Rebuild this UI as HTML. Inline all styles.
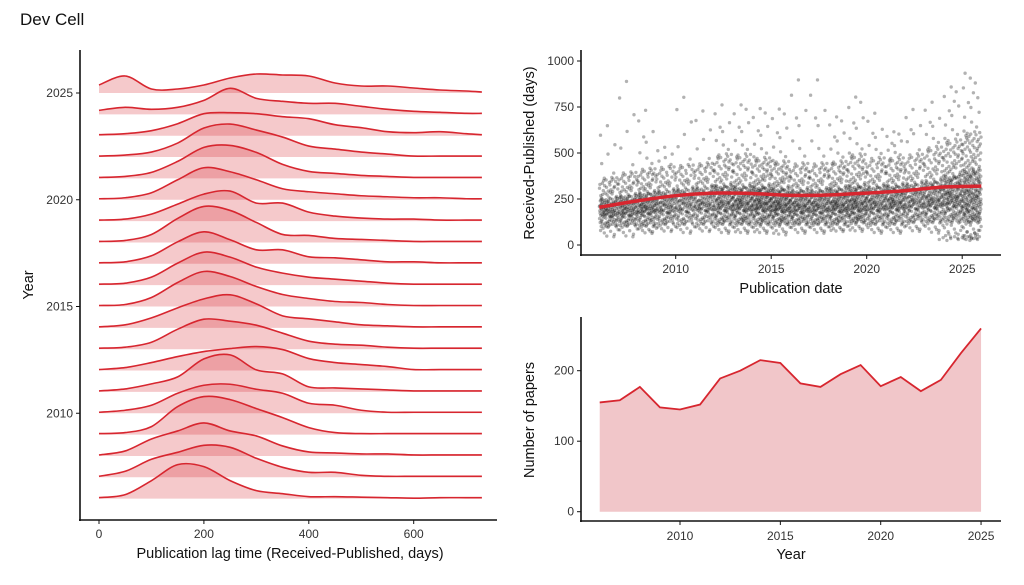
<!DOCTYPE html>
<html><head><meta charset="utf-8">
<style>
body{margin:0;background:#fff;}
svg{display:block;font-family:"Liberation Sans",sans-serif;}
.tick{font-size:12px;fill:#333;}
.lab{font-size:14.5px;fill:#111;}
</style></head>
<body>
<svg id="fig" width="1024" height="585" viewBox="0 0 1024 585">
<text x="20" y="25" font-size="17" fill="#111">Dev Cell</text>
<g id="ridge"></g>
<g id="scatter"></g>
<g id="area"></g>
</svg>
<script>
// ---------- data ----------
const ridgeYears = [2006,2007,2008,2009,2010,2011,2012,2013,2014,2015,2016,2017,2018,2019,2020,2021,2022,2023,2024,2025];
const lagSamples = [0,50,100,150,200,250,300,350,400,450,500,550,600,650,700,730];
const ridgeHeights = [
 [1,4,18,34,32,18,8,5,2,2,1.5,1,0.5,1,1,1],
 [1,6,18,25,32,30,19,10,5,5,2,1,1,1,1,1],
 [1,5,17,25,33,25,20,10,4,3,2,2,1,1,1,1],
 [1,2,8,28,38,35,26,17,7,2,1,1,1,1,1,1],
 [1,3,8,20,28,29,24,20,10,8,3,1,1,1,1,1],
 [1,3,8,15,33,37,22,18,5,4,3,2,1,1,1,1],
 [1,3,8,14,19,22,24,21,12,8,6,4,1,1,1,1],
 [1,2,7,20,30,28,24,16,8,5,4,2,1,1,1,1],
 [1,3,10,20,29,33,24,12,9,6,3,2,1,1,1,1],
 [1,2,9,24,35,30,20,12,8,5,4,2,1,1,1,1],
 [1,2,8,22,33,28,18,12,8,6,4,2,1,1,1,1],
 [1,2,8,22,32,24,14,14,7,6,4,2,2,1,1,1],
 [1,2,8,24,36,32,20,8,7,4,3,2,1,1,1,1],
 [1,2,7,17,27,30,18,18,9,5,3,2,2,1,1,1],
 [1,2,7,20,32,28,20,11,8,6,4,3,2,2,1,1],
 [1,2,6,17,31,33,26,14,7,5,3,2,1,1,1,1],
 [1,2,5,14,29,33,27,20,11,8,5,3,1,1,1,1],
 [1,2,5,12,22,23,22,19,17,11,8,4,3,4,2,1],
 [4,7,5,7,14,26,16,13,11,11,8,5,3,2,1,1],
 [8,17,4,4,8,15,19,18,17,10,7,7,5,3,2,1]
];
const ridgeXTicks = [0,200,400,600];
const ridgeYTicks = [2010,2015,2020,2025];

const paperYears = [2006,2007,2008,2009,2010,2011,2012,2013,2014,2015,2016,2017,2018,2019,2020,2021,2022,2023,2024,2025];
const paperCounts = [155,158,177,148,145,152,189,200,215,211,182,177,195,208,178,191,171,187,225,260];
const areaXTicks = [2010,2015,2020,2025];
const areaYTicks = [0,100,200];

const qLevels = [0,0.05,0.25,0.5,0.75,0.95,1];
const lagQuantiles = [
 [40,95,155,200,255,370,700],[40,100,160,210,270,400,980],[60,100,170,220,285,420,790],[70,110,175,230,295,430,550],
 [60,110,180,240,305,440,870],[70,110,185,240,315,450,780],[60,110,185,250,325,500,810],[60,110,185,245,320,500,810],
 [60,110,185,245,320,480,790],[50,110,180,235,310,460,790],[60,110,175,230,300,450,980],[60,110,175,230,300,450,980],
 [70,110,180,235,310,460,740],[70,120,185,245,325,500,860],[60,110,185,245,320,480,760],[60,110,190,250,325,480,640],
 [70,120,195,260,335,500,780],[60,120,200,265,350,540,820],[30,120,210,285,380,580,910],[30,120,200,295,410,620,960]
];
const lowClusterDates = [2023.8,2024.0,2024.2,2024.4,2024.6,2024.8,2025.0,2025.1,2025.2,2025.3,2025.4,2025.5,2025.6,2025.7,2025.8,2025.9,2024.3,2025.05,2025.25,2025.45,2025.65,2025.85];
const lowClusterVals = [30,40,25,35,45,30,40,35,30,45,25,40,35,50,30,45,60,50,70,55,65,80];
const trendDates = [2006,2008,2010,2012,2014,2016,2018,2020,2022,2024,2026];
const trendVals = [205,240,268,282,280,270,272,282,295,315,320];
const scatterXTicks = [2010,2015,2020,2025];
const scatterYTicks = [0,250,500,750,1000];

// ---------- helpers ----------
const NS='http://www.w3.org/2000/svg';
function mk(tag,attrs,parent){const e=document.createElementNS(NS,tag);for(const k in attrs)e.setAttribute(k,attrs[k]);parent.appendChild(e);return e;}
function smooth(pts){let d='M'+pts[0][0]+','+pts[0][1];for(let i=0;i<pts.length-1;i++){const p0=pts[Math.max(0,i-1)],p1=pts[i],p2=pts[i+1],p3=pts[Math.min(pts.length-1,i+2)];
 d+=' C'+(p1[0]+(p2[0]-p0[0])/6)+','+(p1[1]+(p2[1]-p0[1])/6)+' '+(p2[0]-(p3[0]-p1[0])/6)+','+(p2[1]-(p3[1]-p1[1])/6)+' '+p2[0]+','+p2[1];}return d;}
function interp(xs,ys,x){if(x<=xs[0])return ys[0];for(let i=0;i<xs.length-1;i++){if(x<=xs[i+1]){const t=(x-xs[i])/(xs[i+1]-xs[i]);return ys[i]+t*(ys[i+1]-ys[i]);}}return ys[ys.length-1];}
function vdc(n,b){let v=0,d=1;while(n>0){d*=b;v+=(n%b)/d;n=Math.floor(n/b);}return v;}

// ---------- ridgeline ----------
const R=document.getElementById('ridge');
const rx=v=>99+v*0.5245;
const ry=y=>93+(2025-y)*21.35;
const RED='#d7262f';
for(let k=ridgeYears.length-1;k>=0;k--){
  const yr=ridgeYears[k],b=ry(yr),h=ridgeHeights[k];
  const pts=lagSamples.map((s,i)=>[rx(s),b-h[i]]);
  const line=smooth(pts);
  const g=mk('g',{},R);
  
  
  mk('path',{d:line+' L'+rx(730)+','+b+' L'+rx(0)+','+b+' Z',fill:RED,'fill-opacity':0.25},g);
  const p=mk('path',{d:line,fill:'none',stroke:RED,'stroke-width':1.6},g);
  
  
}
mk('line',{x1:80,y1:50,x2:80,y2:521,stroke:'#111','stroke-width':1.6},R);
mk('line',{x1:79,y1:520,x2:497,y2:520,stroke:'#111','stroke-width':1.6},R);
ridgeXTicks.forEach(t=>{mk('line',{x1:rx(t),x2:rx(t),y1:520,y2:524,stroke:'#111'},R);const e=mk('text',{x:rx(t),y:538,'text-anchor':'middle',class:'tick'},R);e.textContent=t;
 });
ridgeYTicks.forEach(t=>{mk('line',{x1:76,x2:80,y1:ry(t),y2:ry(t),stroke:'#111'},R);const e=mk('text',{x:73,y:ry(t)+4,'text-anchor':'end',class:'tick'},R);e.textContent=t;
 });
let t1=mk('text',{x:290,y:558,'text-anchor':'middle',class:'lab'},R);t1.textContent='Publication lag time (Received-Published, days)';

let t2=mk('text',{x:0,y:0,transform:'translate(33,285) rotate(-90)','text-anchor':'middle',class:'lab'},R);t2.textContent='Year';


// ---------- scatter ----------
const S=document.getElementById('scatter');
const sx=d=>675.7+(d-2010)*19.1;
const sy=v=>245-v*0.184;
const dots=mk('g',{fill:'#000','fill-opacity':0.3},S);


paperYears.forEach((yr,k)=>{
  const n=paperCounts[k],q=lagQuantiles[k];
  for(let i=0;i<n;i++){
    const u=vdc(i+1,2);
    const v=interp(qLevels,q,u);
    const d=yr+vdc(i+1,3);
    mk('circle',{cx:sx(d).toFixed(1),cy:sy(v).toFixed(1),r:1.7},dots);
  }
});
lowClusterDates.forEach((d,i)=>mk('circle',{cx:sx(d),cy:sy(lowClusterVals[i]),r:1.7},dots));
const tp=mk('path',{d:smooth(trendDates.map((d,i)=>[sx(d),sy(trendVals[i])])),fill:'none',stroke:RED,'stroke-width':3.5},S);

mk('line',{x1:581,y1:50,x2:581,y2:256,stroke:'#111','stroke-width':1.6},S);
mk('line',{x1:580,y1:255,x2:1001,y2:255,stroke:'#111','stroke-width':1.6},S);
scatterXTicks.forEach(t=>{mk('line',{x1:sx(t),x2:sx(t),y1:255,y2:259,stroke:'#111'},S);const e=mk('text',{x:sx(t),y:273,'text-anchor':'middle',class:'tick'},S);e.textContent=t;
 });
scatterYTicks.forEach(t=>{mk('line',{x1:577,x2:581,y1:sy(t),y2:sy(t),stroke:'#111'},S);const e=mk('text',{x:574,y:sy(t)+4,'text-anchor':'end',class:'tick'},S);e.textContent=t;
 });
let t3=mk('text',{x:791,y:293,'text-anchor':'middle',class:'lab'},S);t3.textContent='Publication date';

let t4=mk('text',{x:0,y:0,transform:'translate(534,153) rotate(-90)','text-anchor':'middle',class:'lab'},S);t4.textContent='Received-Published (days)';


// ---------- area ----------
const A=document.getElementById('area');
const ax=y=>680+(y-2010)*20.07;
const ay=v=>511.7-v*0.705;
const apts=paperYears.map((y,i)=>[ax(y),ay(paperCounts[i])]);
const lineD='M'+apts.map(p=>p[0]+','+p[1]).join(' L');
const af=mk('path',{d:lineD+' L'+ax(2025)+','+ay(0)+' L'+ax(2006)+','+ay(0)+' Z',fill:'#f1c6c9'},A);

const al=mk('path',{d:lineD,fill:'none',stroke:RED,'stroke-width':1.8},A);

mk('line',{x1:581,y1:317,x2:581,y2:522,stroke:'#111','stroke-width':1.6},A);
mk('line',{x1:580,y1:521,x2:1001,y2:521,stroke:'#111','stroke-width':1.6},A);
areaXTicks.forEach(t=>{mk('line',{x1:ax(t),x2:ax(t),y1:521,y2:525,stroke:'#111'},A);const e=mk('text',{x:ax(t),y:540,'text-anchor':'middle',class:'tick'},A);e.textContent=t;
 });
areaYTicks.forEach(t=>{mk('line',{x1:577,x2:581,y1:ay(t),y2:ay(t),stroke:'#111'},A);const e=mk('text',{x:574,y:ay(t)+4,'text-anchor':'end',class:'tick'},A);e.textContent=t;
 });
let t5=mk('text',{x:791,y:559,'text-anchor':'middle',class:'lab'},A);t5.textContent='Year';

let t6=mk('text',{x:0,y:0,transform:'translate(534,420) rotate(-90)','text-anchor':'middle',class:'lab'},A);t6.textContent='Number of papers';

</script>
</body></html>
